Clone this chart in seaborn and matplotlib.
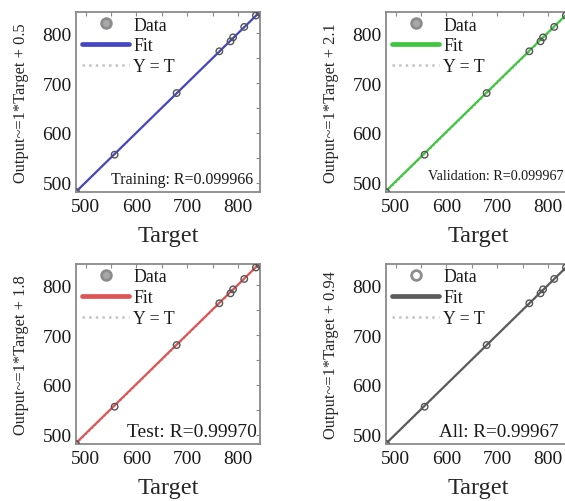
import matplotlib
matplotlib.use("Agg")
import matplotlib.pyplot as plt
from matplotlib.lines import Line2D
from matplotlib.ticker import MultipleLocator, FixedLocator
import pandas as pd
import seaborn as sns

# Regression data: network outputs against targets
targets = [481, 557, 679, 763, 785, 790, 812, 835, 842]
outputs = [481, 556, 680, 764, 784, 792, 813, 836, 842]

# Per-panel fit results
r_labels = ["Training: R=0.099966", "Validation: R=0.099967",
            "Test: R=0.99970", "All: R=0.99967"]
fit_slopes = [1, 1, 1, 1]
fit_intercepts = [0.5, 2.1, 1.8, 0.94]
intercept_labels = ["0.5", "2.1", "1.8", "0.94"]
fit_colors = ["#4646c2", "#3ec63e", "#de5454", "#5c5c5c"]

tick_values = [500, 600, 700, 800]
axis_limits = (481, 843)

sns.set_theme(style="white")
plt.rcParams["font.family"] = ["Liberation Serif", "DejaVu Serif"]
plt.rcParams["text.color"] = "#1a1a1a"

W, H = 565, 502
fig = plt.figure(figsize=(W / 100, H / 100), dpi=100)
fig.patch.set_facecolor("white")

# axes boxes in pixels: left, top, width, height
boxes = [(76, 13, 184, 180), (386, 13, 184, 180),
         (76, 265, 184, 180), (386, 265, 184, 180)]
# R-label placement: right edge (axes fraction), vertical centre (axes fraction), size
r_place = [(0.962, 0.072, 11.5), (0.962, 0.094, 10.2),
           (0.984, 0.067, 14.0), (0.94, 0.067, 13.8)]

data = pd.DataFrame({"Target": targets, "Output": outputs})
spine_grey = "#8a8a8a"

for i, (l, t, w, h) in enumerate(boxes):
    ax = fig.add_axes([l / W, 1 - (t + h) / H, w / W, h / H])
    ax.set_facecolor("white")
    lo, hi = axis_limits
    line_df = pd.DataFrame({"x": [lo, hi]})
    line_df["yt"] = line_df["x"]
    line_df["fit"] = fit_slopes[i] * line_df["x"] + fit_intercepts[i]

    sns.lineplot(data=line_df, x="x", y="yt", ax=ax, color="#b0b0b0",
                 linestyle=":", linewidth=1.2, zorder=1)
    sns.lineplot(data=line_df, x="x", y="fit", ax=ax, color=fit_colors[i],
                 linewidth=1.6, zorder=2)
    sns.scatterplot(data=data, x="Target", y="Output", ax=ax, marker="o",
                    s=22, facecolor="none", edgecolor="#555555",
                    linewidth=1.0, zorder=3)

    ax.set_xlim(axis_limits)
    ax.set_ylim(axis_limits)
    ax.xaxis.set_major_locator(FixedLocator(tick_values))
    ax.yaxis.set_major_locator(FixedLocator(tick_values))
    ax.xaxis.set_minor_locator(MultipleLocator(50))
    ax.yaxis.set_minor_locator(MultipleLocator(50))
    ax.tick_params(which="both", direction="in", top=True, right=True,
                   length=3, width=0.8, color=spine_grey,
                   labelcolor="#1a1a1a", labelsize=14)
    ax.tick_params(axis="x", which="major", pad=4)
    ax.tick_params(axis="y", which="major", pad=3)
    for sp in ax.spines.values():
        sp.set_color(spine_grey)
        sp.set_linewidth(1.3)

    ax.set_xlabel("Target", fontsize=17.5, va="top")
    ax.xaxis.set_label_coords(0.5, -0.185)
    ax.set_ylabel(f"Output~=1*Target + {intercept_labels[i]}", fontsize=11.8,
                  va="center")
    ax.yaxis.set_label_coords(-0.30, 0.5)

    rx, ry, rs = r_place[i]
    ax.text(rx, ry, r_labels[i], transform=ax.transAxes, ha="right",
            va="center", fontsize=rs, color="#1a1a1a")

    handles = [
        Line2D([], [], linestyle="none", marker="o", markersize=7,
               markerfacecolor="#a8a8a8" if i < 3 else "none",
               markeredgecolor="#8c8c8c", markeredgewidth=2.0),
        Line2D([], [], color=fit_colors[i], linewidth=3.4),
        Line2D([], [], color="#c4c4c4", linewidth=1.8, linestyle=":"),
    ]
    ax.legend(handles, ["Data", "Fit", "Y = T"], loc="upper left",
              bbox_to_anchor=(0.035, 0.975), frameon=False, borderpad=0,
              borderaxespad=0, handlelength=2.6, handletextpad=0.25,
              labelspacing=0.22, fontsize=12.8, numpoints=1)

fig.savefig("out.png", dpi=100, facecolor="white")
